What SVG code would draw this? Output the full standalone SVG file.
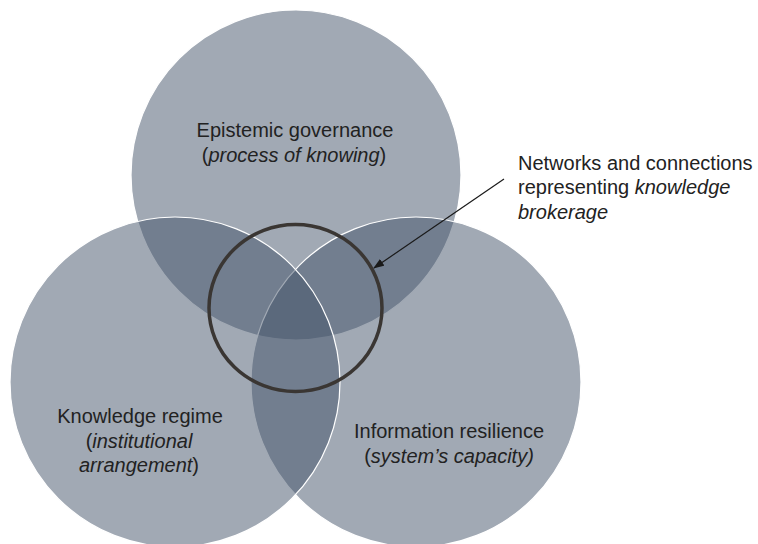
<svg xmlns="http://www.w3.org/2000/svg" width="758" height="544" viewBox="0 0 758 544">
  <defs>
    <style>
      .set { fill: #44546A; fill-opacity: 0.5; stroke: #ffffff; stroke-width: 1.2; }
      .lbl { font-family: "Liberation Sans", Arial, sans-serif; font-size: 20px; fill: #222222; }
      .mid { text-anchor: middle; }
      .it { font-style: italic; }
      .ring { fill: none; stroke: #3a3633; stroke-width: 3.5; }
      .conn { stroke: #1a1a1a; stroke-width: 1.2; fill: none; }
    </style>
    <marker id="arrow" markerUnits="userSpaceOnUse" markerWidth="11" markerHeight="8" refX="10" refY="4" orient="auto">
      <path d="M0,0 L11,4 L0,8 Z" fill="#1a1a1a"/>
    </marker>
  </defs>
  <rect width="758" height="544" fill="#ffffff"/>

  <g id="node-epistemic-governance">
    <circle class="set" cx="296" cy="175" r="165"/>
    <text class="lbl mid" x="295" y="137">Epistemic governance</text>
    <text class="lbl mid" x="294" y="162">(<tspan class="it">process of knowing</tspan>)</text>
  </g>

  <g id="node-information-resilience">
    <circle class="set" cx="416" cy="382" r="165"/>
    <text class="lbl mid" x="449" y="438">Information resilience</text>
    <text class="lbl mid" x="449" y="462.5">(<tspan class="it">system’s capacity)</tspan></text>
  </g>

  <g id="node-knowledge-regime">
    <circle class="set" cx="175" cy="382" r="165"/>
    <text class="lbl mid" x="140" y="423">Knowledge regime</text>
    <text class="lbl mid" x="139" y="447.5">(<tspan class="it">institutional</tspan></text>
    <text class="lbl mid" x="139" y="472"><tspan class="it">arrangement</tspan>)</text>
  </g>

  <g id="node-knowledge-brokerage">
    <ellipse class="ring" cx="295.5" cy="308" rx="86.5" ry="83.5"/>
  </g>

  <g id="node-annotation">
    <text class="lbl" x="518" y="169.5">Networks and connections</text>
    <text class="lbl" x="518" y="194">representing <tspan class="it">knowledge</tspan></text>
    <text class="lbl" x="518" y="218.5"><tspan class="it">brokerage</tspan></text>
  </g>

  <g id="connectors">
    <line class="conn" x1="504" y1="179" x2="374" y2="268" marker-end="url(#arrow)"/>
  </g>
</svg>
